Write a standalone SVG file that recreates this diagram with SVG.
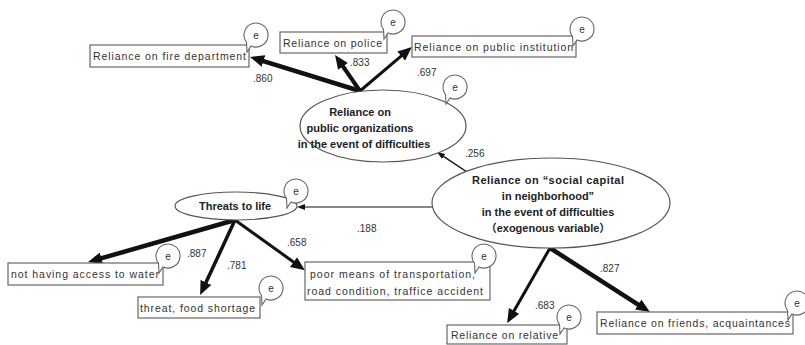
<svg xmlns="http://www.w3.org/2000/svg" width="805" height="345" viewBox="0 0 805 345">
  <style>
    .box { fill: #fff; stroke: #666; stroke-width: 1.2; }
    .ell { fill: #fff; stroke: #555; stroke-width: 1.2; }
    .err { fill: #fff; stroke: #666; stroke-width: 1.1; }
    .lbl { font-family: "Liberation Sans", "Noto Sans CJK JP", sans-serif; font-size: 10.5px; fill: #333; }
    .hd { font-family: "Liberation Sans", "Noto Sans CJK JP", sans-serif; font-size: 11px; font-weight: bold; fill: #222; text-anchor: middle; }
    .num { font-family: "Liberation Sans", sans-serif; font-size: 10px; fill: #333; }
    .e { font-family: "Liberation Sans", sans-serif; font-size: 10px; fill: #333; text-anchor: middle; }
    .path { fill: none; stroke: #111; }
  </style>
  <defs>
    <marker id="ah" markerUnits="userSpaceOnUse" markerWidth="14" markerHeight="12" viewBox="0 0 14 12" refX="6" refY="6" orient="auto">
      <path d="M0,0 L14,6 L0,12 Z" fill="#111"/>
    </marker>
    <marker id="ahs" markerUnits="userSpaceOnUse" markerWidth="8" markerHeight="6" viewBox="0 0 8 6" refX="3" refY="3" orient="auto">
      <path d="M0,0 L8,3 L0,6 Z" fill="#111"/>
    </marker>
    <!-- error-term bubble: circle with a short tail to the lower left -->
    <g id="errbubble">
      <path class="err" d="M -5,10.9 A 12 12 0 1 0 -9.5,7.3 L -9,17 Z"/>
      <text class="e" x="0" y="3.5">e</text>
    </g>
  </defs>

  <!-- connectors -->
  <g id="connectors">
    <line class="path" x1="360" y1="91" x2="257.7" y2="59.3" stroke-width="4.5" marker-end="url(#ah)"/>
    <line class="path" x1="360" y1="91" x2="339.6" y2="61.5" stroke-width="4" marker-end="url(#ah)"/>
    <line class="path" x1="360" y1="91" x2="405.8" y2="52.1" stroke-width="3" marker-end="url(#ah)"/>
    <line class="path" x1="467" y1="172" x2="441.2" y2="154.8" stroke-width="1.5" marker-end="url(#ahs)"/>
    <line class="path" x1="432" y1="207" x2="302" y2="207" stroke-width="1" marker-end="url(#ahs)"/>
    <line class="path" x1="235" y1="220" x2="95.7" y2="259.9" stroke-width="4.5" marker-end="url(#ah)"/>
    <line class="path" x1="235" y1="220" x2="203.5" y2="287.8" stroke-width="3.5" marker-end="url(#ah)"/>
    <line class="path" x1="235" y1="220" x2="298.4" y2="265.5" stroke-width="3" marker-end="url(#ah)"/>
    <line class="path" x1="550" y1="248" x2="511.1" y2="316.1" stroke-width="3" marker-end="url(#ah)"/>
    <line class="path" x1="550" y1="248" x2="643.2" y2="307.8" stroke-width="4.5" marker-end="url(#ah)"/>

    <text class="num" x="253" y="82">.860</text>
    <text class="num" x="350" y="66">.833</text>
    <text class="num" x="417" y="76">.697</text>
    <text class="num" x="465" y="157">.256</text>
    <text class="num" x="357" y="232">.188</text>
    <text class="num" x="187" y="257">.887</text>
    <text class="num" x="227" y="269">.781</text>
    <text class="num" x="287" y="246">.658</text>
    <text class="num" x="535" y="309">.683</text>
    <text class="num" x="600" y="272">.827</text>
  </g>

  <!-- latent variables -->
  <g id="public-organizations">
    <ellipse class="ell" cx="383" cy="126" rx="83" ry="36"/>
    <text class="hd" x="360" y="116">Reliance on</text>
    <text class="hd" x="360" y="132">public organizations</text>
    <text class="hd" x="364" y="148">in the event of difficulties</text>
    <use href="#errbubble" x="455" y="87"/>
  </g>

  <g id="social-capital">
    <ellipse class="ell" cx="551" cy="203" rx="119" ry="45"/>
    <text class="hd" x="548" y="184" textLength="152" lengthAdjust="spacing">Reliance on “social capital</text>
    <text class="hd" x="548" y="200">in neighborhood”</text>
    <text class="hd" x="548" y="216">in the event of difficulties</text>
    <text class="hd" x="548" y="232">（exogenous variable）</text>
  </g>

  <g id="threats">
    <ellipse class="ell" cx="236" cy="206" rx="61" ry="14"/>
    <text class="hd" x="235" y="210">Threats to life</text>
    <use href="#errbubble" x="296" y="191"/>
  </g>

  <!-- observed variables -->
  <g id="fire">
    <rect class="box" x="90" y="45" width="159" height="22"/>
    <text class="lbl" x="93" y="60" textLength="153" lengthAdjust="spacing">Reliance on fire department</text>
    <use href="#errbubble" x="256" y="35"/>
  </g>
  <g id="police">
    <rect class="box" x="280" y="32" width="107" height="21"/>
    <text class="lbl" x="283" y="47" textLength="99" lengthAdjust="spacing">Reliance on police</text>
    <use href="#errbubble" x="393" y="22"/>
  </g>
  <g id="public-institution">
    <rect class="box" x="412" y="36" width="164" height="21"/>
    <text class="lbl" x="414" y="51" textLength="159" lengthAdjust="spacing">Reliance on public institution</text>
    <use href="#errbubble" x="582" y="29"/>
  </g>
  <g id="water">
    <rect class="box" x="8" y="263" width="155" height="22"/>
    <text class="lbl" x="11" y="278" textLength="148" lengthAdjust="spacing">not having access to water</text>
    <use href="#errbubble" x="168" y="256"/>
  </g>
  <g id="food">
    <rect class="box" x="138" y="297" width="122" height="21"/>
    <text class="lbl" x="140" y="312" textLength="115" lengthAdjust="spacing">threat, food shortage</text>
    <use href="#errbubble" x="271" y="288"/>
  </g>
  <g id="transport">
    <rect class="box" x="305" y="262" width="185" height="38"/>
    <text class="lbl" x="310" y="278" textLength="165" lengthAdjust="spacing">poor means of transportation,</text>
    <text class="lbl" x="307" y="295" textLength="176" lengthAdjust="spacing">road condition, traffice accident</text>
    <use href="#errbubble" x="484" y="256"/>
  </g>
  <g id="relative">
    <rect class="box" x="447" y="325" width="120" height="19"/>
    <text class="lbl" x="451" y="339" textLength="107" lengthAdjust="spacing">Reliance on relative</text>
    <use href="#errbubble" x="569" y="317"/>
  </g>
  <g id="friends">
    <rect class="box" x="597" y="312" width="196" height="22"/>
    <text class="lbl" x="600" y="327" textLength="190" lengthAdjust="spacing">Reliance on friends, acquaintances</text>
    <use href="#errbubble" x="797" y="303"/>
  </g>
</svg>
